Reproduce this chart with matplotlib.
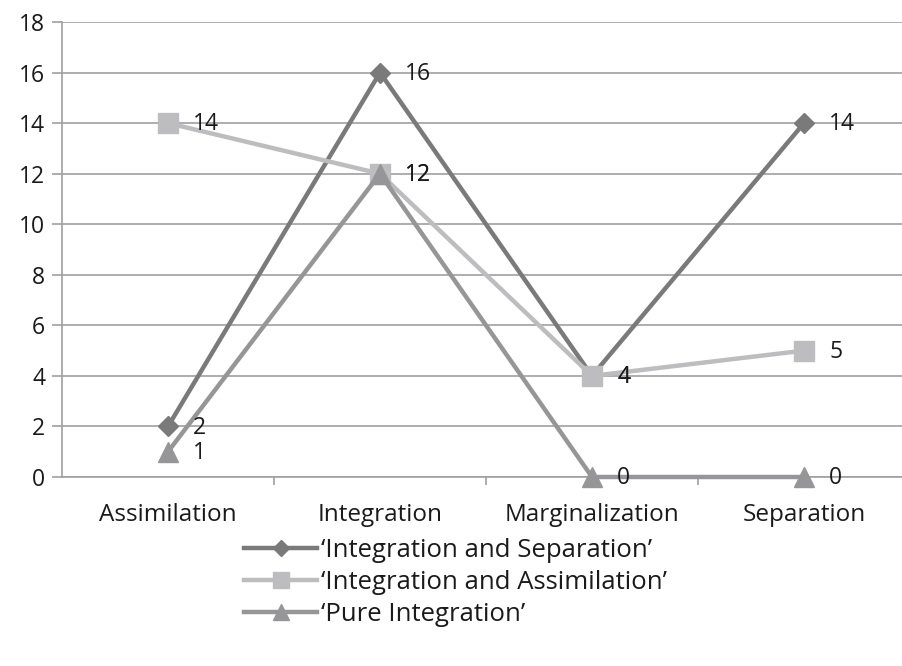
import matplotlib.pyplot as plt
from matplotlib.lines import Line2D

plt.rcParams['font.family'] = ['Open Sans', 'DejaVu Sans']

categories = ['Assimilation', 'Integration', 'Marginalization', 'Separation']
sep_vals = [2, 16, 4, 14]
assim_vals = [14, 12, 4, 5]
pure_vals = [1, 12, 0, 0]
series_names = ["\u2018Integration and Separation\u2019",
                "\u2018Integration and Assimilation\u2019",
                "\u2018Pure Integration\u2019"]

colors = ['#7a7a7a', '#bdbdbf', '#969698']
markers = ['D', 's', '^']
msizes = [10, 14, 14]

fig = plt.figure(figsize=(9.02, 6.66), dpi=100)
ax = fig.add_axes([62 / 902, 1 - 477 / 666, 848 / 902, 455 / 666])

x = range(len(categories))
for vals, c, m, ms in zip([sep_vals, assim_vals, pure_vals], colors, markers, msizes):
    ax.plot(x, vals, color=c, lw=3.2, marker=m, ms=ms, mec=c, mfc=c,
            solid_capstyle='round', zorder=3, clip_on=False)
    for xi, v in zip(x, vals):
        ax.annotate(str(v), (xi, v), xytext=(18, -1), textcoords='offset points',
                    va='center', ha='left', fontsize=16.5, color='#1a1a1a', zorder=4)

ax.set_xlim(-0.5, 3.5)
ax.set_ylim(0, 18)
ax.set_yticks(range(0, 19, 2))
ax.set_xticks(list(x))
ax.set_xticklabels(categories)
ax.set_xticks([0.5, 1.5, 2.5], minor=True)
ax.tick_params(axis='x', which='major', length=0, pad=19, labelsize=17.5, labelcolor='#1a1a1a')
ax.tick_params(axis='x', which='minor', length=6, color='#a0a0a0', width=1.2)
ax.tick_params(axis='y', length=7, color='#a0a0a0', width=1.2, labelsize=16.5, pad=5,
               labelcolor='#1a1a1a')
ax.grid(axis='y', color='#a0a0a0', lw=1.2, zorder=0)
for s in ['top', 'right']:
    ax.spines[s].set_visible(False)
for s in ['left', 'bottom']:
    ax.spines[s].set_color('#a0a0a0')
    ax.spines[s].set_linewidth(1.2)
ax.set_axisbelow(True)

handles = [Line2D([], [], color=c, lw=3.2, marker=m, ms=ms * 0.85, mec=c, mfc=c)
           for c, m, ms in zip(colors, markers, msizes)]
leg = fig.legend(handles, series_names, loc='upper left',
                 bbox_to_anchor=(244 / 902, 1 - 538 / 666),
                 frameon=False, fontsize=18.5, handlelength=2.85, handletextpad=0.15,
                 labelspacing=0.28, borderaxespad=0, borderpad=0)
for t in leg.get_texts():
    t.set_color('#1a1a1a')

fig.savefig('out.png', dpi=100)
